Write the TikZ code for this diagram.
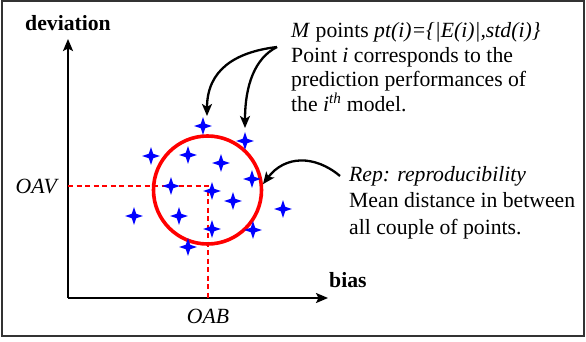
\documentclass[tikz,border=0pt]{standalone}
\usepackage{fontspec}
\setmainfont{Liberation Serif}
\usetikzlibrary{arrows.meta}
\begin{document}
\begin{tikzpicture}[x=1pt,y=-1pt,
  txt/.style={anchor=base west,inner sep=0pt,font=\fontsize{21.7}{26}\selectfont},
  axis/.style={line width=2.2pt,-{Stealth[length=12pt,width=10pt,inset=2.5pt]}},
  callout/.style={line width=2.3pt,-{Stealth[length=12pt,width=10pt,inset=3pt]}},
  repcircle/.style={circle,draw=red,line width=3.6pt,minimum size=108pt,inner sep=0pt},
  reddash/.style={red,line width=1.8pt,dash pattern=on 5pt off 3.5pt},
  spark/.pic={\fill[blue] (0,-8.8) -- (2.2,-2.2) -- (8.8,0) -- (2.2,2.2) -- (0,8.8) -- (-2.2,2.2) -- (-8.8,0) -- (-2.2,-2.2) -- cycle;}
]
\useasboundingbox (0,0) rectangle (586,342);
\draw[line width=2pt,black!80] (2,1.5) rectangle (584,336);

% axes
\coordinate (O) at (68,298);
\coordinate (ytop) at (68,39);
\coordinate (xend) at (328,298);
\draw[axis] (O) -- (ytop);
\draw[axis] (O) -- (xend);
\node[txt,font=\fontsize{21.7}{26}\selectfont\bfseries] (dev) at (25,31) {deviation};
\node[txt,font=\fontsize{21.7}{26}\selectfont\bfseries] (bias) at (329,287) {bias};

% mean lines
\coordinate (mean) at (208,186);
\draw[reddash] (mean -| O) -- (mean) -- (mean |- O);
\node[txt,anchor=base east] (oav) at (57,193) {\itshape OAV};
\node[txt,anchor=base] (oab) at (208,323) {\itshape OAB};

% circle
\node[repcircle] (rep) at (207.5,190) {};

% points
\foreach \px/\py in {203/126,245/141,151/156,188/155,221/163,252/179,171/186,212/191,233/201,283/209,134/216,179/216,212/229,253/230,188/247}
  \pic at (\px,\py) {spark};

% texts
\node[txt] (t1) at (291,38) {\textit{M} points \textit{pt(i)=\{|E(i)|,std(i)\}}};
\node[txt] (t2) at (291,62.5) {Point \textit{i} corresponds to the};
\node[txt] (t3) at (291,87) {prediction performances of};
\node[txt] (t4) at (291,111.5) {the \textit{i}\textsuperscript{\textit{th}} model.};
\node[txt] (r1) at (349,181) {\textit{Rep: reproducibility}};
\node[txt] (r2) at (349,207.5) {Mean distance in between};
\node[txt] (r3) at (349,234) {all couple of points.};

% callouts
\coordinate (mstart) at (277,47);
\coordinate (tipA) at (207,116);
\coordinate (tipB) at (245,128);
\coordinate (rstart) at (340,176);
\draw[callout] (mstart) .. controls (235,52) and (207,70) .. (tipA);
\draw[callout] (mstart) .. controls (255,58) and (245,85) .. (tipB);
\draw[callout] (rstart) .. controls (315,155) and (285,155) .. (rep.6);
\end{tikzpicture}
\end{document}
